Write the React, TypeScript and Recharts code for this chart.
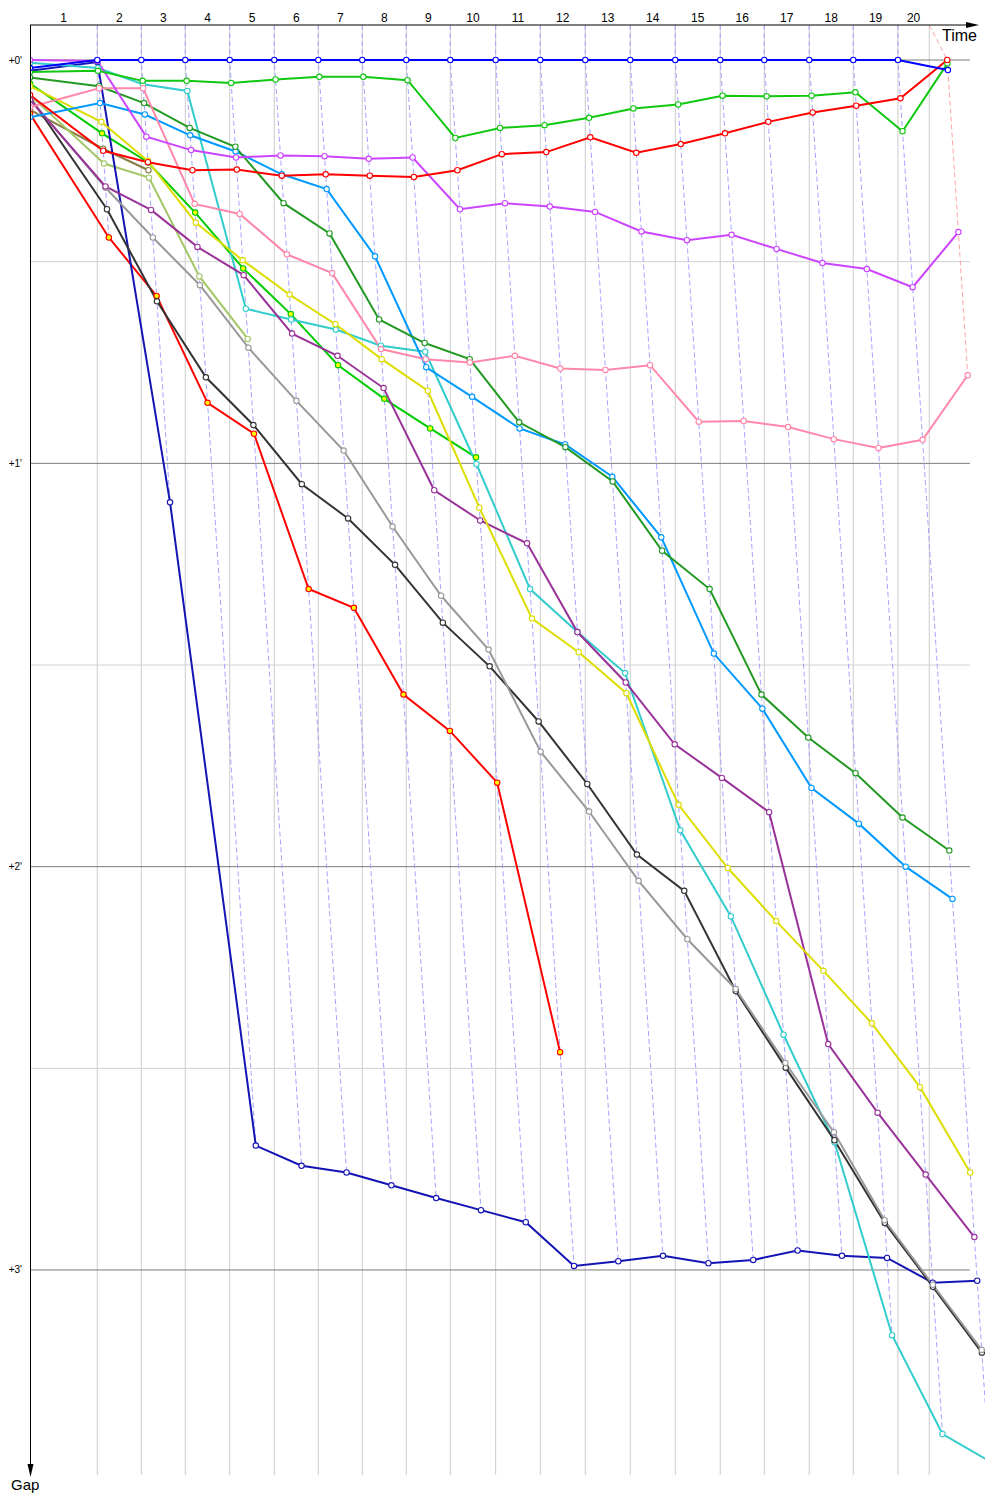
import { Line, LineChart, ReferenceLine, XAxis, YAxis } from "recharts";

document.body.style.margin = "0";

const font = "'Liberation Sans', Arial, sans-serif";

// race clock (s) at which the leader crossed each lap line, laps 1..20
const lapLines = [
    154.1, 254.9, 355.6, 457.3, 559.4, 660.2, 760.9, 861.7, 962.4, 1066.4,
    1168.5, 1271.6, 1374.6, 1477.7, 1580.7, 1681.5, 1784.5, 1885.3, 1987.6, 2059.3,
];
const finishClock = 2100.5;
const gapTicks = [0, 60, 120, 180];
const gapGrid = [0, 30, 60, 90, 120, 150, 180];

// gaps to the leader in seconds, index = lap (0 = start)
const gapBlue = [1.2, 0, 0, 0, 0, 0, 0, 0, 0, 0, 0, 0, 0, 0, 0, 0, 0, 0, 0, 0, 1.5];
const gapRed = [5.2, 13.5, 15.2, 16.4, 16.3, 17.2, 17.0, 17.2, 17.4, 16.4, 14.0, 13.7, 11.5, 13.8, 12.5, 10.9, 9.2, 7.8, 6.8, 5.7, 0];
const gapGreen = [1.8, 1.6, 3.1, 3.1, 3.4, 2.9, 2.5, 2.5, 3.0, 11.6, 10.1, 9.7, 8.6, 7.2, 6.6, 5.3, 5.4, 5.3, 4.8, 10.6, 0.5];
const gapViolet = [0, 0.15, 11.4, 13.4, 14.5, 14.2, 14.3, 14.7, 14.5, 22.2, 21.3, 21.8, 22.6, 25.5, 26.8, 26.0, 28.1, 30.2, 31.1, 33.8, 25.6];
const gapPink = [7.0, 4.2, 4.2, 21.4, 22.9, 28.9, 31.7, 43.0, 44.5, 45.0, 44.0, 45.9, 46.1, 45.4, 53.8, 53.7, 54.6, 56.4, 57.7, 56.5, 46.9];
const gapForest = [2.6, 3.9, 6.4, 10.1, 12.9, 21.3, 25.8, 38.6, 42.1, 44.5, 53.9, 57.6, 62.7, 73.0, 78.7, 94.4, 100.8, 106.1, 112.7, 117.6];
const gapAzure = [8.5, 6.4, 8.1, 11.2, 13.6, 17.0, 19.2, 29.2, 45.7, 50.1, 54.8, 57.2, 62.0, 71.0, 88.3, 96.5, 108.3, 113.6, 120.0, 124.8];
const gapYellow = [3.9, 9.2, 15.0, 24.2, 29.8, 34.9, 39.3, 44.5, 49.2, 66.6, 83.1, 88.1, 94.2, 110.8, 120.2, 128.1, 135.5, 143.3, 152.8, 165.5];
const gapPurple = [5.9, 18.8, 22.3, 27.8, 32.0, 40.7, 44.0, 48.8, 64.0, 68.5, 71.9, 85.1, 92.6, 101.8, 106.8, 111.9, 146.4, 156.6, 165.8, 175.1];
const gapGray = [5.8, 19.0, 26.4, 33.5, 42.8, 50.7, 58.1, 69.4, 79.7, 87.7, 102.9, 111.8, 122.1, 130.8, 138.2, 149.2, 159.5, 172.6, 182.2, 191.9];
const gapBlack = [5.5, 22.2, 35.9, 47.2, 54.3, 63.1, 68.2, 75.1, 83.7, 90.2, 98.4, 107.7, 118.2, 123.6, 138.5, 149.9, 160.7, 173.0, 182.5, 192.3];
const gapCyan = [0.4, 1.2, 3.6, 4.6, 37.0, 38.6, 40.1, 42.5, 43.4, 60.1, 78.7, 85.1, 91.2, 114.6, 127.4, 145.0, 161.0, 189.7, 204.4, 208.4];
const gapNavy = [1.6, 0.3, 65.8, 161.5, 164.5, 165.5, 167.4, 169.3, 171.1, 172.9, 179.4, 178.7, 177.9, 179.0, 178.5, 177.1, 177.9, 178.2, 181.9, 181.6];
const gapLime = [3.5, 10.9, 15.2, 22.7, 31.0, 37.8, 45.4, 50.4, 54.8, 59.1];
const gapRed2 = [8.0, 26.4, 35.1, 51.0, 55.6, 78.7, 81.5, 94.4, 99.8, 107.5, 147.6];
const gapOlive = [7.4, 13.2, 16.4];
const gapSage = [5.2, 15.4, 17.5, 32.2, 41.5];

const drivers = [
    { key: "olive", gaps: gapOlive, color: "#8c7d45", fill: "#fff" },
    { key: "sage", gaps: gapSage, color: "#a2c766", fill: "#fff" },
    { key: "red2", gaps: gapRed2, color: "#ff0000", fill: "#ffff00" },
    { key: "lime", gaps: gapLime, color: "#00cc00", fill: "#ffff00" },
    { key: "navy", gaps: gapNavy, color: "#1414b4", fill: "#fff" },
    { key: "cyan", gaps: gapCyan, color: "#33cccc", fill: "#fff" },
    { key: "black", gaps: gapBlack, color: "#333333", fill: "#fff" },
    { key: "gray", gaps: gapGray, color: "#999999", fill: "#fff" },
    { key: "purple", gaps: gapPurple, color: "#993399", fill: "#fff" },
    { key: "yellow", gaps: gapYellow, color: "#dddd00", fill: "#fff" },
    { key: "azure", gaps: gapAzure, color: "#0099ff", fill: "#fff" },
    { key: "forest", gaps: gapForest, color: "#229922", fill: "#fff" },
    { key: "pink", gaps: gapPink, color: "#ff88aa", fill: "#fff" },
    { key: "violet", gaps: gapViolet, color: "#cc44ff", fill: "#fff" },
    { key: "green", gaps: gapGreen, color: "#11c811", fill: "#fff" },
    { key: "red", gaps: gapRed, color: "#ff0000", fill: "#fff" },
    { key: "blue", gaps: gapBlue, color: "#0000ff", fill: "#fff" },
];

const xMax = 2187;
const gapTop = -5.21;
const gapBottom = 210.5;
const gridEnd = 2152.5;

function clockAt(lap: number) {
    if (lap === 0) return 0;
    return lap === lapLines.length ? finishClock : lapLines[lap - 1];
}

// a driver's point sits at his own race clock: leader clock + gap
function pointsOf(gaps: number[]) {
    return gaps.map((g, lap) => ({ t: lap === 0 ? 0 : clockAt(lap) + g, g }));
}

const lapMids = lapLines.map((v, i) => ((i === 0 ? 0 : lapLines[i - 1]) + v) / 2);

const lapTraces = lapLines.map((mark, i) => {
    const lap = i + 1;
    const pts = drivers
        .filter((d) => d.gaps[lap] !== undefined)
        .map((d) => ({ t: clockAt(lap) + d.gaps[lap], g: d.gaps[lap] }))
        .sort((a, b) => a.g - b.g);
    return [{ t: mark, g: gapTop }, ...pts];
});

function LapTick(props: any) {
    return (
        <text x={props.x} y={props.y - 3} textAnchor="middle" fontSize={12} fontFamily={font} fill="#000">
            {props.index + 1}
        </text>
    );
}

function GapTick(props: any) {
    const v = props.payload.value;
    return (
        <text x={22} y={props.y + 3.5} textAnchor="end" fontSize={10} fontFamily={font} fill="#000">
            {`+${v / 60}'`}
        </text>
    );
}

export default function App() {
    return (
        <div style={{ position: "relative", width: 1000, height: 1500, background: "#fff" }}>
            <LineChart width={1000} height={1500} margin={{ top: 0, right: 15, bottom: 25, left: 0 }}>
                <XAxis
                    type="number"
                    dataKey="t"
                    orientation="top"
                    height={25}
                    domain={[0, xMax]}
                    allowDataOverflow
                    ticks={lapMids}
                    interval={0}
                    tickSize={0}
                    tickMargin={0}
                    axisLine={false}
                    tickLine={false}
                    tick={LapTick}
                />
                <YAxis
                    type="number"
                    dataKey="g"
                    width={30}
                    reversed
                    domain={[gapTop, gapBottom]}
                    allowDataOverflow
                    ticks={gapTicks}
                    interval={0}
                    tickSize={0}
                    tickMargin={0}
                    axisLine={false}
                    tickLine={false}
                    tick={GapTick}
                />

                {lapLines.map((m) => (
                    <ReferenceLine key={`v${m}`} x={m} stroke="#cccccc" strokeWidth={1} />
                ))}
                {gapGrid.map((g) => (
                    <ReferenceLine
                        key={`h${g}`}
                        segment={[{ x: 0, y: g }, { x: gridEnd, y: g }]}
                        stroke={g % 60 === 0 ? "#7a7a7a" : "#d2d2d2"}
                        strokeWidth={1}
                    />
                ))}

                {lapTraces.map((pts, i) => (
                    <Line
                        key={`lap${i}`}
                        data={pts}
                        dataKey="g"
                        type="linear"
                        stroke={i === lapTraces.length - 1 ? "#ffa4a4" : "#a4a4ff"}
                        strokeWidth={1}
                        strokeDasharray="5 3"
                        dot={false}
                        activeDot={false}
                        isAnimationActive={false}
                    />
                ))}

                {drivers.map((d) => (
                    <Line
                        key={d.key}
                        data={pointsOf(d.gaps)}
                        dataKey="g"
                        type="linear"
                        stroke={d.color}
                        strokeWidth={2}
                        dot={{ r: 2.7, fill: d.fill, stroke: d.color, strokeWidth: 1.1 }}
                        activeDot={false}
                        isAnimationActive={false}
                    />
                ))}
            </LineChart>

            <svg width={1000} height={1500} style={{ position: "absolute", left: 0, top: 0, pointerEvents: "none" }}>
                <line x1={30} y1={25} x2={968} y2={25} stroke="#000" strokeWidth={1} />
                <polygon points="966,22 979,25 966,28" fill="#000" />
                <line x1={30.5} y1={25} x2={30.5} y2={1466} stroke="#000" strokeWidth={1} />
                <polygon points="27.5,1464 30.5,1477 33.5,1464" fill="#000" />
                <text x={977} y={41} textAnchor="end" fontSize={16} fontFamily={font} fill="#000">
                    Time
                </text>
                <text x={11} y={1490} fontSize={15} fontFamily={font} fill="#000">
                    Gap
                </text>
            </svg>
        </div>
    );
}
